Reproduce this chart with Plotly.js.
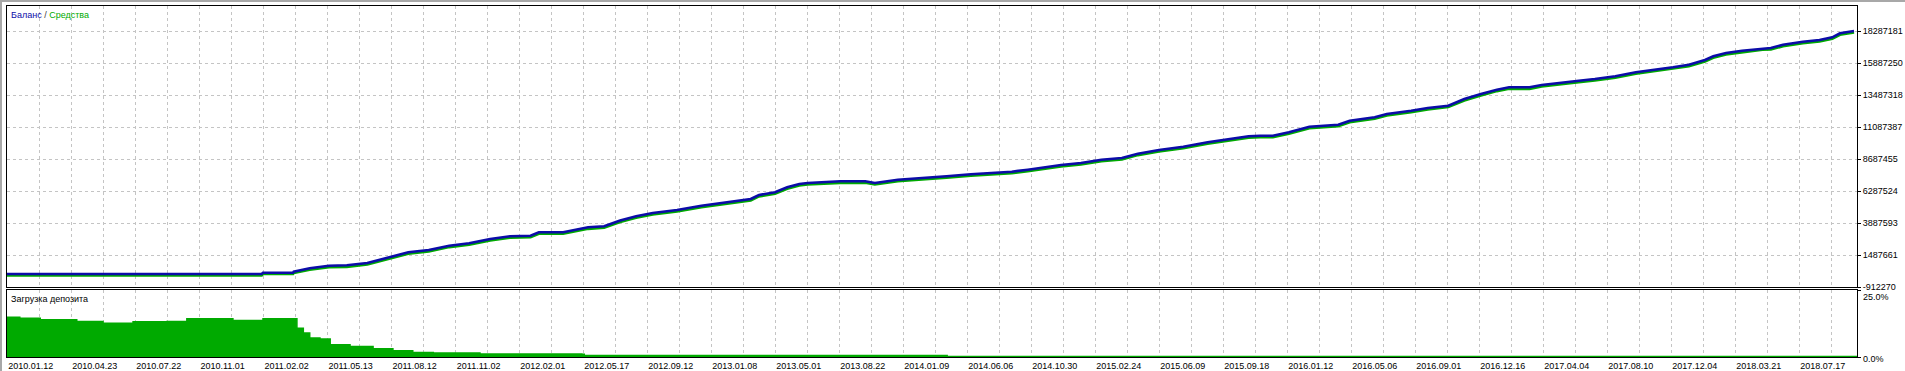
<!DOCTYPE html>
<html>
<head>
<meta charset="utf-8">
<script src="https://cdn.plot.ly/plotly-3.0.1.min.js"></script>
<style>
html,body{margin:0;padding:0;background:#fff;}
#chart{width:1905px;height:371px;}
#frame{position:absolute;left:0;top:0;width:1905px;height:371px;border-top:2px solid #a8a8a8;border-left:2px solid #a8a8a8;box-sizing:border-box;pointer-events:none;}
</style>
</head>
<body>
<div id="chart"></div>
<div id="frame"></div>
<script>
// x position in units of one date-label step (trade sequence, as in the MT4 report)
const dateLabels = ["2010.01.12","2010.04.23","2010.07.22","2010.11.01","2011.02.02","2011.05.13","2011.08.12","2011.11.02","2012.02.01","2012.05.17","2012.09.12","2013.01.08","2013.05.01","2013.08.22","2014.01.09","2014.06.06","2014.10.30","2015.02.24","2015.06.09","2015.09.18","2016.01.12","2016.05.06","2016.09.01","2016.12.16","2017.04.04","2017.08.10","2017.12.04","2018.03.21","2018.07.17"];

const yTickLabels = ["-912270","1487661","3887593","6287524","8687455","11087387","13487318","15887250","18287181"];

const tradePos = [0,3.98,4.0,4.47,4.48,4.73,5.03,5.31,5.63,6.02,6.27,6.59,6.91,7.22,7.55,7.86,8.18,8.31,8.69,9.08,9.33,9.58,9.83,10.09,10.47,10.85,11.17,11.49,11.62,11.75,12.0,12.19,12.38,12.51,12.77,13.02,13.41,13.56,13.92,14.3,14.68,15.06,15.45,15.7,15.95,16.28,16.47,16.78,17.1,17.42,17.67,18.0,18.38,18.76,19.14,19.4,19.58,19.78,20.03,20.35,20.8,20.98,21.37,21.56,21.94,22.2,22.52,22.77,23.03,23.28,23.47,23.79,23.98,24.3,24.56,24.81,25.13,25.45,25.77,26.03,26.28,26.53,26.66,26.86,27.11,27.43,27.56,27.75,28.06,28.32,28.52,28.64,28.86];

const balance = [62700,62700,160200,160200,235200,490200,685200,715200,887700,1360200,1690200,1862600,2185100,2365100,2687600,2890100,2935100,3190100,3190100,3565100,3640100,4075100,4390100,4637600,4862600,5185100,5387500,5612500,5687500,5987500,6190000,6565000,6812500,6887500,6940000,7015000,7015000,6887500,7135000,7240000,7390000,7540000,7660000,7735000,7885000,8140000,8237500,8387500,8635000,8762500,9085000,9362400,9610000,9940000,10187400,10390000,10435000,10435000,10690000,11110000,11260000,11560000,11815000,12062000,12310000,12512000,12685000,13187000,13562000,13885000,14065000,14065000,14237000,14387000,14560000,14687000,14890000,15190000,15385000,15565000,15760000,16112000,16390000,16637000,16810000,16990000,17012000,17260000,17485000,17612000,17815000,18115000,18287000];

const equity = [-40000,-40000,60000,60000,130000,380000,580000,600000,780000,1250000,1580000,1750000,2080000,2250000,2580000,2780000,2820000,3080000,3080000,3450000,3530000,3960000,4280000,4530000,4750000,5080000,5280000,5500000,5580000,5880000,6080000,6450000,6700000,6780000,6830000,6900000,6900000,6780000,7020000,7130000,7280000,7430000,7550000,7620000,7780000,8030000,8130000,8280000,8520000,8650000,8980000,9250000,9500000,9830000,10080000,10280000,10320000,10320000,10580000,11000000,11150000,11450000,11700000,11950000,12200000,12400000,12580000,13080000,13450000,13780000,13950000,13950000,14130000,14280000,14450000,14580000,14780000,15080000,15280000,15450000,15650000,16000000,16280000,16530000,16700000,16880000,16900000,17150000,17380000,17500000,17700000,18000000,18180000];

const loadPos = [0,0.2,0.52,0.93,1.09,1.5,1.97,2.5,2.81,3.12,3.53,4.0,4.47,4.53,4.63,4.73,4.89,5.05,5.36,5.72,6.03,6.34,6.66,7.39,8.98,9.02,14.66,14.69,28.91];
const loadPct = [14.86,14.49,13.86,13.86,13.22,12.63,13.11,13.22,14.23,14.23,13.6,14.23,14.23,10.77,8.92,7.06,6.69,4.57,3.94,3.08,2.34,1.71,1.49,1.11,1.0,0.56,0.56,0.15,0.15];

const FONT = "Liberation Sans, Arial, sans-serif";
const W = 1905, H = 371;
const px = v => v / W, py = v => (H - v) / H;

const yTickVals = yTickLabels.map(Number);
const yStep = yTickVals[1] - yTickVals[0];
const yMin = yTickVals[0];
const yMax = yMin + yStep * 281 / 32;
const xMax = (1857 - 7) / 64;
const labelVals = dateLabels.map((d, i) => i + 0.37);

const gridColor = "#c4c4c4";

const traces = [
  {x: tradePos, y: equity, type: "scatter", mode: "lines", line: {color: "#00aa00", width: 2.6}, xaxis: "x", yaxis: "y", hoverinfo: "skip"},
  {x: tradePos, y: balance, type: "scatter", mode: "lines", line: {color: "#0c0ca8", width: 2.6}, xaxis: "x", yaxis: "y", hoverinfo: "skip"},
  {x: loadPos, y: loadPct, type: "scatter", mode: "lines", line: {color: "#00aa00", width: 1.5, shape: "hv"}, fill: "tozeroy", fillcolor: "#00aa00", xaxis: "x2", yaxis: "y2", hoverinfo: "skip"}
];

const minorGrid = {tickmode: "linear", tick0: 0, dtick: 0.5, showgrid: true, gridcolor: gridColor, griddash: "3px,3px", gridwidth: 1, ticks: ""};

const layout = {
  width: W, height: H,
  margin: {l: 0, r: 0, t: 0, b: 0},
  paper_bgcolor: "#ffffff", plot_bgcolor: "#ffffff",
  showlegend: false,
  font: {family: FONT, size: 9, color: "#000"},
  xaxis: {
    domain: [px(7), px(1857)], range: [0, xMax], anchor: "y",
    tickmode: "array", tickvals: labelVals, ticktext: dateLabels, showticklabels: false,
    showgrid: false, zeroline: false, ticks: "",
    showline: true, linecolor: "#000", linewidth: 1, mirror: true,
    minor: minorGrid
  },
  yaxis: {
    domain: [py(287), py(6)], range: [yMin, yMax], anchor: "x", side: "right",
    tickmode: "array", tickvals: yTickVals, ticktext: yTickLabels,
    ticks: "outside", ticklen: 3, tickcolor: "#000",
    tickfont: {family: FONT, size: 9, color: "#000"},
    showgrid: true, gridcolor: gridColor, griddash: "3px,3px", zeroline: false,
    showline: true, linecolor: "#000", linewidth: 1, mirror: true
  },
  xaxis2: {
    domain: [px(7), px(1857)], range: [0, xMax], anchor: "y2", matches: "x",
    tickmode: "array", tickvals: labelVals, ticktext: dateLabels,
    tickfont: {family: FONT, size: 9, color: "#000"},
    showgrid: false, zeroline: false, ticks: "",
    showline: true, linecolor: "#000", linewidth: 1, mirror: true,
    minor: minorGrid
  },
  yaxis2: {
    domain: [py(357), py(290)], range: [0, 25], anchor: "x2", side: "right",
    tickmode: "array", tickvals: [0, 25], showticklabels: false,
    ticks: "outside", ticklen: 3, tickcolor: "#000",
    showgrid: false, zeroline: false,
    showline: true, linecolor: "#000", linewidth: 1, mirror: true
  },
  annotations: [
    {xref: "paper", yref: "paper", x: px(9), y: py(15), xanchor: "left", yanchor: "middle", showarrow: false,
     text: "<span style='color:#0c0ca8'>Баланс</span><span style='color:#404040'> / </span><span style='color:#00aa00'>Средства</span>",
     font: {family: FONT, size: 9}},
    {xref: "paper", yref: "paper", x: px(9), y: py(299), xanchor: "left", yanchor: "middle", showarrow: false,
     text: "Загрузка депозита", font: {family: FONT, size: 9, color: "#000"}},
    {xref: "paper", yref: "y2", x: px(1861), y: 25, xanchor: "left", yanchor: "top", showarrow: false,
     text: "25.0%", font: {family: FONT, size: 9, color: "#000"}},
    {xref: "paper", yref: "y2", x: px(1861), y: 0, xanchor: "left", yanchor: "middle", showarrow: false, yshift: -2,
     text: "0.0%", font: {family: FONT, size: 9, color: "#000"}}
  ]
};

Plotly.newPlot("chart", traces, layout, {displayModeBar: false, staticPlot: true});
</script>
</body>
</html>
